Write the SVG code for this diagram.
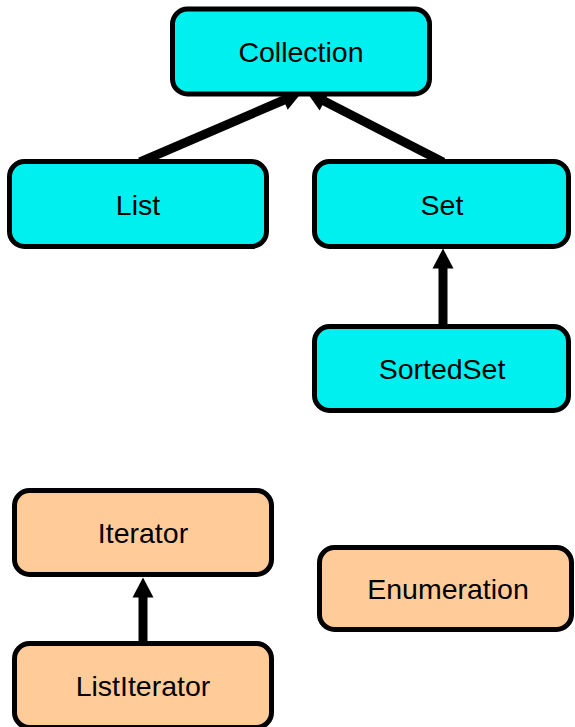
<svg xmlns="http://www.w3.org/2000/svg" width="575" height="727" viewBox="0 0 575 727">
  <style>
    .box { stroke: #000; stroke-width: 5; }
    .coll { fill: #00f0f0; }
    .iter { fill: #ffcc99; }
    .label { font-family: "Liberation Sans", Arial, sans-serif; font-size: 28.5px; fill: #000; text-anchor: middle; }
    .edge { stroke: #000; stroke-width: 9; fill: none; marker-end: url(#head); }
  </style>
  <defs>
    <!-- arrowhead starts where the shaft ends -->
    <marker id="head" markerUnits="userSpaceOnUse" markerWidth="20" markerHeight="21" viewBox="0 0 20 21" refX="0.5" refY="10.5" orient="auto" overflow="visible">
      <path d="M0,0 L20,10.5 L0,21 Z" fill="#000"/>
    </marker>
  </defs>

  <!-- inheritance arrows -->
  <g id="connectors">
    <line class="edge" x1="140" y1="162" x2="284" y2="100"/>
    <line class="edge" x1="443" y1="162" x2="324" y2="101"/>
    <line class="edge" x1="443" y1="326" x2="443" y2="268"/>
    <line class="edge" x1="143" y1="643" x2="143" y2="597"/>
  </g>

  <g id="collection">
    <rect class="box coll" x="172.5" y="9" width="257" height="85" rx="15"/>
    <text class="label" x="301" y="62">Collection</text>
  </g>
  <g id="list">
    <rect class="box coll" x="9.5" y="161.5" width="257" height="85" rx="15"/>
    <text class="label" x="138" y="215">List</text>
  </g>
  <g id="set">
    <rect class="box coll" x="314.5" y="161.5" width="254" height="85" rx="15"/>
    <text class="label" x="442" y="215">Set</text>
  </g>
  <g id="sortedset">
    <rect class="box coll" x="314.5" y="326.5" width="254" height="84" rx="15"/>
    <text class="label" x="442" y="379">SortedSet</text>
  </g>
  <g id="iterator">
    <rect class="box iter" x="14.5" y="490.5" width="257" height="84" rx="15"/>
    <text class="label" x="143" y="543">Iterator</text>
  </g>
  <g id="enumeration">
    <rect class="box iter" x="319.5" y="547.5" width="252" height="82" rx="15"/>
    <text class="label" x="448" y="599">Enumeration</text>
  </g>
  <g id="listiterator">
    <rect class="box iter" x="14.5" y="643.5" width="257" height="84" rx="15"/>
    <text class="label" x="143" y="696">ListIterator</text>
  </g>
</svg>
